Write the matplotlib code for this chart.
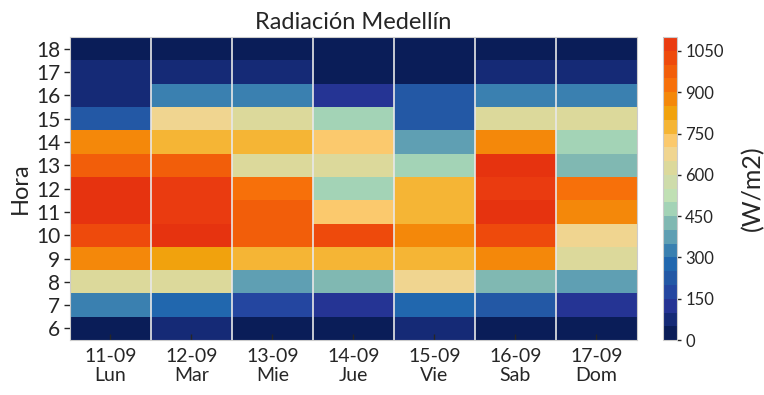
import numpy as np
import matplotlib
matplotlib.use("Agg")
import matplotlib.pyplot as plt
from matplotlib.colors import ListedColormap, BoundaryNorm

plt.rcParams['font.family'] = ['Lato', 'DejaVu Sans']
plt.rcParams['text.color'] = '#262626'
plt.rcParams['axes.labelcolor'] = '#262626'
plt.rcParams['xtick.color'] = '#262626'
plt.rcParams['ytick.color'] = '#262626'

# datos: radiacion (W/m2) por hora, una lista por dia
horas = list(range(6, 19))
fechas = ['11-09', '12-09', '13-09', '14-09', '15-09', '16-09', '17-09']
dias = ['Lun', 'Mar', 'Mie', 'Jue', 'Vie', 'Sab', 'Dom']

#            6    7    8    9    10    11    12    13    14   15   16   17  18
lun = [25, 325, 625, 875, 1025, 1120, 1120, 975, 875, 225, 75, 75, 25]
mar = [75, 275, 625, 825, 1120, 1075, 1075, 975, 775, 675, 325, 75, 25]
mie = [25, 175, 375, 775, 975, 975, 925, 625, 775, 625, 325, 75, 25]
jue = [25, 125, 425, 775, 1025, 725, 475, 625, 725, 475, 125, 25, 25]
vie = [75, 275, 675, 775, 875, 775, 775, 475, 375, 225, 225, 25, 25]
sab = [25, 225, 425, 875, 1025, 1120, 1075, 1120, 875, 625, 325, 75, 25]
dom = [25, 125, 375, 625, 675, 875, 925, 425, 475, 625, 325, 75, 25]

colores = ['#0a1d58', '#152a76', '#253494', '#2446a0', '#2358a5', '#2167ae',
           '#3a80b0', '#5f9fb3', '#80b8b2', '#a3d3b6', '#c0e0b4', '#cedcaa',
           '#dcd99b', '#f0d590', '#fbc96d', '#f5b535', '#f1a20d', '#f4880a',
           '#f7700a', '#f25e0a', '#ee4a0c', '#ea3b10']

datos = np.array([lun, mar, mie, jue, vie, sab, dom]).T

cmap = ListedColormap(colores)
cmap.set_over('#e6330f')
niveles = np.arange(0, 1101, 50)
norm = BoundaryNorm(niveles, cmap.N)

fig = plt.figure(figsize=(7.64, 3.95), dpi=100)
ax = fig.add_axes([0.0916, 0.139, 0.742, 0.767])
cax = fig.add_axes([0.868, 0.139, 0.018, 0.767])

x_bordes = np.arange(len(fechas) + 1)
y_bordes = np.arange(horas[0] - 0.5, horas[-1] + 1.5)
malla = ax.pcolormesh(x_bordes, y_bordes, datos, cmap=cmap, norm=norm)

for i in range(1, len(fechas)):
    ax.axvline(i, color='#e8e8e8', lw=1.2)

ax.set_xticks(np.arange(len(fechas)) + 0.5)
ax.set_xticklabels([f + '\n' + d for f, d in zip(fechas, dias)], fontsize=14,
                   linespacing=1.1)
ax.set_yticks(horas)
ax.set_yticklabels([str(h) for h in horas], fontsize=15)
ax.tick_params(axis='x', direction='in', length=4, width=1, pad=6)
ax.tick_params(axis='y', direction='out', length=4, width=1, pad=3)
ax.set_ylabel('Hora', fontsize=17, labelpad=4)
ax.set_title('Radiación Medellín', fontsize=17, pad=6)
for s in ax.spines.values():
    s.set_color('#cccccc')

cb = fig.colorbar(malla, cax=cax, ticks=np.arange(0, 1101, 150), extend='neither')
cb.ax.minorticks_off()
cb.outline.set_edgecolor('#cccccc')
cb.ax.tick_params(labelsize=12, length=3, width=1, pad=3)
cb.set_label('(W/m2)', fontsize=18, labelpad=12)

fig.savefig('out.png', dpi=100)
